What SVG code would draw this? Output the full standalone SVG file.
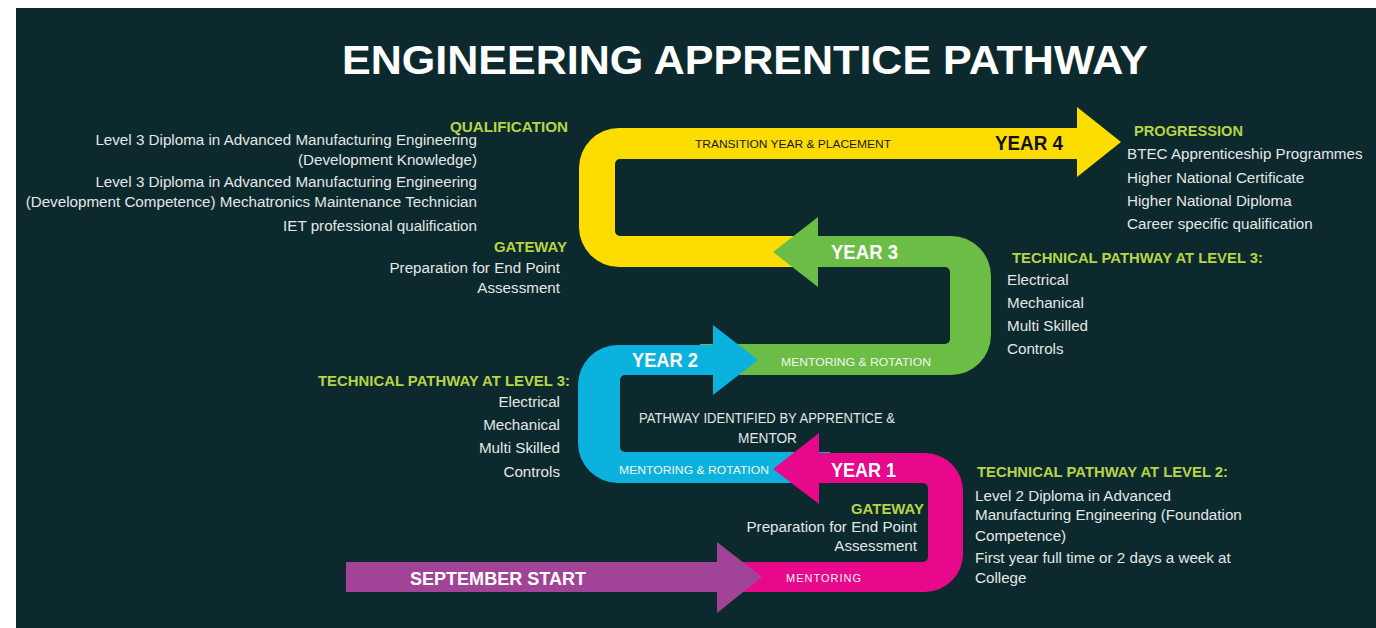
<svg xmlns="http://www.w3.org/2000/svg" width="1376" height="628" viewBox="0 0 1376 628">
<style>
.bg{fill:#0c2a2d}
.title{font-family:"Liberation Sans",Arial,sans-serif;font-weight:bold;font-size:40px;fill:#ffffff}
.hd{font-family:"Liberation Sans",Arial,sans-serif;font-weight:bold;font-size:15px;fill:#b7d446}
.bd{font-family:"Liberation Sans",Arial,sans-serif;font-size:15.2px;fill:#e4e6e6}
.yr{font-family:"Liberation Sans",Arial,sans-serif;font-weight:bold;font-size:20px;fill:#ffffff}
.sm{font-family:"Liberation Sans",Arial,sans-serif;font-size:11px;fill:#f2f6ee}
.end{text-anchor:end}
</style>
<rect x="0" y="0" width="1376" height="628" fill="#ffffff"/>
<rect class="bg" x="16" y="8" width="1360" height="620"/>
<text class="title" x="342" y="74" textLength="806" lengthAdjust="spacingAndGlyphs">ENGINEERING APPRENTICE PATHWAY</text>

<g id="connectors">
  <path id="year4-yellow" fill="#fddd00" d="M 820 236 L 620 236 A 5 5 0 0 1 615 231 L 615 164 A 5 5 0 0 1 620 159 L 1077 159 L 1077 177 L 1121 142 L 1077 107 L 1077 128 L 619 128 A 40 40 0 0 0 579 168 L 579 227 A 40 40 0 0 0 619 267 L 820 267 Z"/>
  <path id="year3-green" fill="#6bbd45" d="M 773 252 L 818 217 L 818 236 L 951 236 A 40 40 0 0 1 991 276 L 991 335 A 40 40 0 0 1 951 375 L 700 375 L 700 344 L 945 344 A 5 5 0 0 0 950 339 L 950 272 A 5 5 0 0 0 945 267 L 818 267 L 818 287 Z"/>
  <path id="year2-blue" fill="#0bb2dd" d="M 758 360 L 713 325 L 713 345 L 618 345 A 40 40 0 0 0 578 385 L 578 443 A 40 40 0 0 0 618 483 L 830 483 L 830 452 L 625 452 A 5 5 0 0 1 620 447 L 620 380 A 5 5 0 0 1 625 375 L 713 375 L 713 395 Z"/>
  <path id="year1-magenta" fill="#e8088c" d="M 773 469 L 819 433 L 819 453 L 925 453 A 38 38 0 0 1 963 491 L 963 554 A 38 38 0 0 1 925 592 L 710 592 L 710 562 L 923 562 A 5 5 0 0 0 928 557 L 928 488 A 5 5 0 0 0 923 483 L 819 483 L 819 504 Z"/>
  <path id="start-purple" fill="#a14396" d="M 346 562 L 717 562 L 717 542 L 762 577 L 717 613 L 717 592 L 346 592 Z"/>
</g>

<g id="band-labels">
  <text x="695" y="148" font-family="Liberation Sans, Arial, sans-serif" font-size="10.5" fill="#1a1a1a" textLength="196" lengthAdjust="spacingAndGlyphs">TRANSITION YEAR &amp; PLACEMENT</text>
  <text class="yr" x="995" y="150" style="fill:#111111;font-size:21px" textLength="68" lengthAdjust="spacingAndGlyphs">YEAR 4</text>
  <text class="yr" x="831" y="259" textLength="67" lengthAdjust="spacingAndGlyphs">YEAR 3</text>
  <text class="sm" x="781" y="366" textLength="150" lengthAdjust="spacingAndGlyphs">MENTORING &amp; ROTATION</text>
  <text class="yr" x="632" y="367" textLength="66" lengthAdjust="spacingAndGlyphs">YEAR 2</text>
  <text class="sm" x="619" y="474" textLength="150" lengthAdjust="spacingAndGlyphs">MENTORING &amp; ROTATION</text>
  <text class="yr" x="831" y="477" textLength="65" lengthAdjust="spacingAndGlyphs">YEAR 1</text>
  <text class="sm" x="786" y="582" textLength="75" lengthAdjust="spacing">MENTORING</text>
  <text class="yr" x="410" y="585" style="font-size:18px" textLength="176" lengthAdjust="spacingAndGlyphs">SEPTEMBER START</text>
</g>

<g id="qualification">
  <text class="hd" x="450" y="132" textLength="118" lengthAdjust="spacingAndGlyphs">QUALIFICATION</text>
  <text class="bd end" x="477" y="145">Level 3 Diploma in Advanced Manufacturing Engineering</text>
  <text class="bd end" x="477" y="165">(Development Knowledge)</text>
  <text class="bd end" x="477" y="187">Level 3 Diploma in Advanced Manufacturing Engineering</text>
  <text class="bd end" x="477" y="207">(Development Competence) Mechatronics Maintenance Technician</text>
  <text class="bd end" x="477" y="231">IET professional qualification</text>
</g>

<g id="gateway-top">
  <text class="hd" x="494" y="252" textLength="73" lengthAdjust="spacingAndGlyphs">GATEWAY</text>
  <text class="bd end" x="560" y="273">Preparation for End Point</text>
  <text class="bd end" x="560" y="293">Assessment</text>
</g>

<g id="progression">
  <text class="hd" x="1134" y="136" textLength="109" lengthAdjust="spacingAndGlyphs">PROGRESSION</text>
  <text class="bd" x="1127" y="159">BTEC Apprenticeship Programmes</text>
  <text class="bd" x="1127" y="183">Higher National Certificate</text>
  <text class="bd" x="1127" y="206">Higher National Diploma</text>
  <text class="bd" x="1127" y="229">Career specific qualification</text>
</g>

<g id="technical-level3-right">
  <text class="hd" x="1012" y="263" textLength="251" lengthAdjust="spacingAndGlyphs">TECHNICAL PATHWAY AT LEVEL 3:</text>
  <text class="bd" x="1007" y="285">Electrical</text>
  <text class="bd" x="1007" y="308">Mechanical</text>
  <text class="bd" x="1007" y="331">Multi Skilled</text>
  <text class="bd" x="1007" y="354">Controls</text>
</g>

<g id="technical-level3-left">
  <text class="hd" x="318" y="386" textLength="252" lengthAdjust="spacingAndGlyphs">TECHNICAL PATHWAY AT LEVEL 3:</text>
  <text class="bd end" x="560" y="407">Electrical</text>
  <text class="bd end" x="560" y="430">Mechanical</text>
  <text class="bd end" x="560" y="453">Multi Skilled</text>
  <text class="bd end" x="560" y="477">Controls</text>
</g>

<g id="pathway-identified">
  <text class="bd" x="639" y="423" textLength="256" lengthAdjust="spacingAndGlyphs" style="font-size:14px">PATHWAY IDENTIFIED BY APPRENTICE &amp;</text>
  <text class="bd" x="738" y="443" textLength="59" lengthAdjust="spacingAndGlyphs" style="font-size:14px">MENTOR</text>
</g>

<g id="gateway-bottom">
  <text class="hd" x="851" y="514" textLength="73" lengthAdjust="spacingAndGlyphs">GATEWAY</text>
  <text class="bd end" x="917" y="532">Preparation for End Point</text>
  <text class="bd end" x="917" y="551">Assessment</text>
</g>

<g id="technical-level2">
  <text class="hd" x="977" y="477" textLength="251" lengthAdjust="spacingAndGlyphs">TECHNICAL PATHWAY AT LEVEL 2:</text>
  <text class="bd" x="975" y="501">Level 2 Diploma in Advanced</text>
  <text class="bd" x="975" y="520">Manufacturing Engineering (Foundation</text>
  <text class="bd" x="975" y="541">Competence)</text>
  <text class="bd" x="975" y="563">First year full time or 2 days a week at</text>
  <text class="bd" x="975" y="583">College</text>
</g>
</svg>
